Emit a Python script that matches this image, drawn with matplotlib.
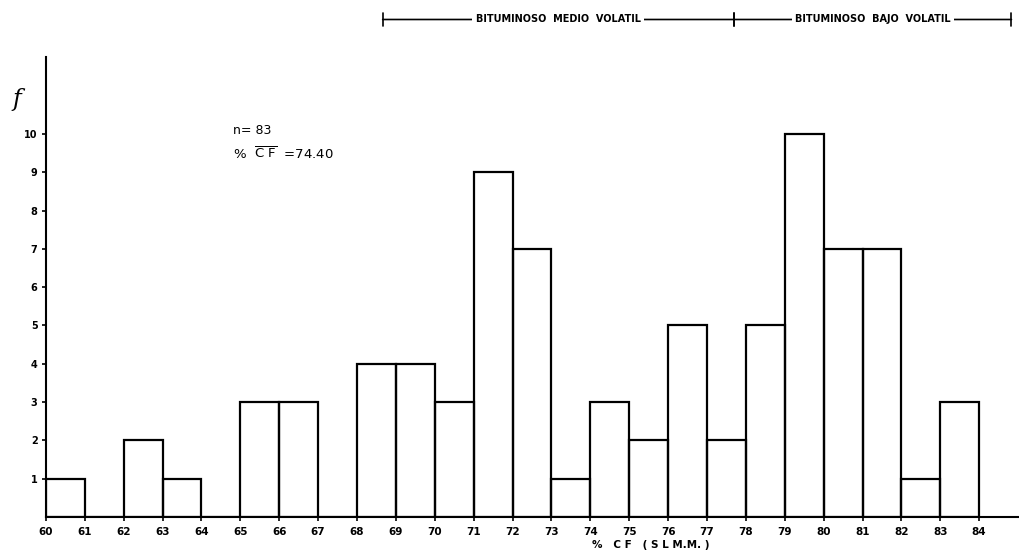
import matplotlib
matplotlib.use("Agg")
import matplotlib.pyplot as plt
import matplotlib.transforms as mtransforms

# Data: histogram of % CF (s.l.m.m.), class width 1
bin_left = [60, 61, 62, 63, 64, 65, 66, 67, 68, 69, 70, 71,
            72, 73, 74, 75, 76, 77, 78, 79, 80, 81, 82, 83]
freq = [1, 0, 2, 1, 0, 3, 3, 0, 4, 4, 3, 9,
        7, 1, 3, 2, 5, 2, 5, 10, 7, 7, 1, 3]
x_ticks = list(range(60, 85))
y_ticks = list(range(1, 11))
n_text = "n= 83"
mean_value = "74.40"
boundary_medio = (68.66, 77.7)
boundary_bajo = (77.7, 84.83)

fig = plt.figure(figsize=(10.2, 5.57), dpi=100)
ax = fig.add_axes([0.045, 0.072, 0.955, 0.825])

ax.bar(bin_left, freq, width=1, align="edge", fill=False,
       edgecolor="black", linewidth=1.6)

ax.set_xlim(60, 85.05)
ax.set_ylim(0, 12)
for s in ["top", "right"]:
    ax.spines[s].set_visible(False)
for s in ["left", "bottom"]:
    ax.spines[s].set_linewidth(1.5)

ax.set_xticks(x_ticks)
ax.set_xticklabels([str(v) for v in x_ticks], fontsize=7.5, fontweight="bold")
ax.set_yticks(y_ticks)
ax.set_yticklabels([str(v) for v in y_ticks], fontsize=7, fontweight="bold")
ax.tick_params(axis="x", direction="out", length=3, width=1.2, pad=4)
ax.tick_params(axis="y", direction="out", length=3, width=1.2, pad=3)

# y label "f"
fig.text(0.012, 0.81, "f", fontsize=17, family="DejaVu Serif", style="italic")

# annotations
ax.text(64.8, 10.0, n_text, fontsize=9)
ax.text(64.8, 9.35, "%  $\\overline{\\mathrm{C\\ F}}$  =" + mean_value, fontsize=9.5)

fig.text(0.58, 0.012, "%   C F   ( S L M.M. )", fontsize=7.5, fontweight="bold",
         va="bottom")

# top classification bar
trans = mtransforms.blended_transform_factory(ax.transData, fig.transFigure)
yb = 0.965
def bracket(x0, x1, label):
    ax.annotate("", xy=(x0, yb), xytext=(x1, yb), xycoords=trans, textcoords=trans,
                arrowprops=dict(arrowstyle="|-|", lw=1.2, color="black",
                                shrinkA=0, shrinkB=0, mutation_scale=5),
                annotation_clip=False)
    ax.text((x0 + x1) / 2, yb, label, transform=trans, ha="center", va="center",
            fontsize=7, fontweight="bold",
            bbox=dict(facecolor="white", edgecolor="none", pad=2.5),
            clip_on=False)

bracket(boundary_medio[0], boundary_medio[1], "BITUMINOSO  MEDIO  VOLATIL")
bracket(boundary_bajo[0], boundary_bajo[1], "BITUMINOSO  BAJO  VOLATIL")

fig.savefig("out.png", dpi=100, facecolor="white")
